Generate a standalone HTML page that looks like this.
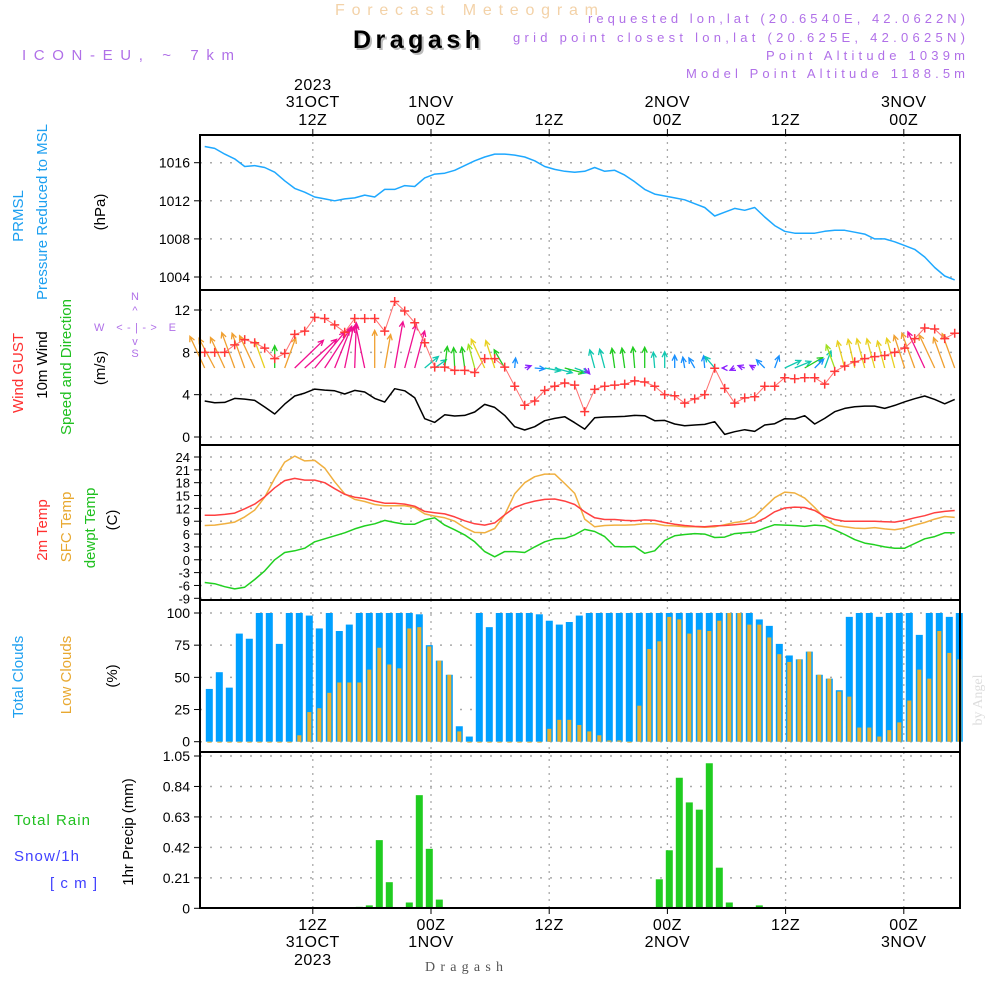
<!DOCTYPE html>
<html><head><meta charset="utf-8"><style>
html,body{margin:0;padding:0;background:#fff}
svg text{font-family:"Liberation Sans",sans-serif}
</style></head><body>
<svg id="chart" xmlns="http://www.w3.org/2000/svg" width="1000" height="1000" viewBox="0 0 1000 1000">
<rect x="0" y="0" width="1000" height="1000" fill="#fff"/>
<text x="335" y="15" font-size="16" fill="#f3d2a8" textLength="263" lengthAdjust="spacing">Forecast Meteogram</text>
<text x="355" y="50" font-size="25" font-weight="bold" fill="#bbb" textLength="127" lengthAdjust="spacing">Dragash</text>
<text x="353" y="48" font-size="25" font-weight="bold" fill="#000" textLength="127" lengthAdjust="spacing">Dragash</text>
<text x="22" y="60" font-size="15" fill="#b070e8" textLength="212" lengthAdjust="spacing">ICON-EU, ~ 7km</text>
<g font-size="13" fill="#b070e8">
<text x="588" y="23" textLength="377" lengthAdjust="spacing">requested lon,lat (20.6540E, 42.0622N)</text>
<text x="513" y="42" textLength="452" lengthAdjust="spacing">grid point closest lon,lat (20.625E, 42.0625N)</text>
<text x="766" y="60" textLength="199" lengthAdjust="spacing">Point Altitude 1039m</text>
<text x="686" y="78" textLength="279" lengthAdjust="spacing">Model Point Altitude 1188.5m</text>
</g>
<g font-size="15" text-anchor="middle">
<text transform="translate(23,216) rotate(-90)" fill="#1ea0f0">PRMSL</text>
<text transform="translate(47,212) rotate(-90)" fill="#1ea0f0">Pressure Reduced to MSL</text>
<text transform="translate(105,212) rotate(-90)" fill="#000">(hPa)</text>
<text transform="translate(23,373) rotate(-90)" fill="#ff3030">Wind GUST</text>
<text transform="translate(47,365) rotate(-90)" fill="#000">10m Wind</text>
<text transform="translate(71,367) rotate(-90)" fill="#20c020">Speed and Direction</text>
<text transform="translate(105,368) rotate(-90)" fill="#000">(m/s)</text>
<text transform="translate(47,530) rotate(-90)" fill="#ff3030">2m Temp</text>
<text transform="translate(71,527) rotate(-90)" fill="#e8a830">SFC Temp</text>
<text transform="translate(95,528) rotate(-90)" fill="#20c020">dewpt Temp</text>
<text transform="translate(117,520) rotate(-90)" fill="#000">(C)</text>
<text transform="translate(23,677) rotate(-90)" fill="#1ea0f0">Total Clouds</text>
<text transform="translate(71,675) rotate(-90)" fill="#e8a830">Low Clouds</text>
<text transform="translate(117,676) rotate(-90)" fill="#000">(%)</text>
<text transform="translate(133,832) rotate(-90)" fill="#000">1hr Precip (mm)</text>
</g>
<text x="14" y="825" font-size="15" fill="#20c020" textLength="76" lengthAdjust="spacing">Total  Rain</text>
<text x="14" y="861" font-size="15" fill="#4040ff" textLength="65" lengthAdjust="spacing">Snow/1h</text>
<text x="50" y="888" font-size="15" fill="#4040ff" textLength="47" lengthAdjust="spacing">[cm]</text>
<g font-size="11" fill="#b070e8" text-anchor="middle">
<text x="135" y="300">N</text>
<text x="135" y="314">^</text>
<text x="94" y="331" text-anchor="start" textLength="82" lengthAdjust="spacing">W &lt;-|-&gt; E</text>
<text x="135" y="345">v</text>
<text x="135" y="357">S</text>
</g>
<text transform="translate(982,700) rotate(-90)" font-size="14" fill="#ddd" text-anchor="middle" style="font-family:'Liberation Serif',serif">by Angel</text>
<text x="425" y="971" font-size="14" fill="#555" textLength="78" lengthAdjust="spacing" style="font-family:'Liberation Serif',serif">Dragash</text>
<g id="plot"></g>
</svg>
<script>
const pressure=[1017.7,1017.5,1016.9,1016.4,1015.6,1015.7,1015.5,1015.0,1014.1,1013.3,1012.9,1012.4,1012.2,1012.0,1012.2,1012.3,1012.6,1012.4,1013.2,1013.2,1013.6,1013.5,1014.4,1014.8,1014.9,1015.2,1015.7,1016.2,1016.6,1016.9,1016.9,1016.8,1016.6,1016.2,1015.6,1015.3,1015.1,1015.0,
1015.1,1015.5,1015.1,1015.2,1014.7,1014.0,1013.2,1012.7,1012.5,1012.3,1012.1,1011.7,1011.3,1010.4,1010.8,1011.2,1011.0,1011.3,1010.3,1009.4,1008.8,1008.6,1008.6,1008.6,1008.8,1008.9,1008.9,1008.7,1008.5,1008.0,1008.0,1007.7,1007.3,1006.9,1006.1,1005.0,1004.1,1003.7];
const windGust=[8.0,8.0,8.0,8.7,9.2,8.9,8.4,7.4,7.9,9.7,10.0,11.3,11.2,10.6,9.9,11.2,11.2,11.2,10.0,12.8,11.9,10.8,8.9,6.6,6.6,6.3,6.3,6.1,7.4,7.4,6.6,4.8,3.0,3.4,4.4,4.8,5.1,4.9,
2.4,4.5,4.8,4.9,5.0,5.3,5.2,4.8,4.0,3.9,3.2,3.6,4.0,6.5,4.6,3.2,3.7,3.8,4.8,4.8,5.6,5.5,5.6,5.6,5.0,6.2,6.7,7.1,7.4,7.6,7.7,8.0,8.4,9.3,10.3,10.2,9.3,9.8];
const wind10m=[3.4,3.24,3.27,3.65,3.58,3.46,2.83,2.17,3.11,3.87,4.15,4.53,4.43,4.37,4.06,4.4,4.25,3.65,3.3,4.56,4.37,3.71,1.73,1.38,2.1,1.98,2.04,2.36,3.08,2.8,2.04,0.97,0.66,0.97,1.54,1.76,1.92,1.35,
0.75,1.82,1.89,1.92,1.95,2.04,2.01,1.54,1.57,1.23,1.07,1.13,1.19,1.45,0.25,0.5,0.69,0.53,1.13,1.26,1.73,1.7,2.01,1.23,1.76,2.39,2.7,2.86,2.92,2.92,2.7,2.99,3.33,3.62,3.87,3.55,3.14,3.55];
const windDir=[-25,-28,-25,-20,-20,-25,-20,0,20,46,48,40,33,22,12,2,-12,0,10,10,15,15,50,55,7,-3,-8,-15,-25,-18,-30,5,70,95,100,105,105,110,
140,-15,-15,-8,-8,-5,0,-5,0,0,-10,-30,-5,-40,-90,-115,-70,-60,-45,20,65,68,60,45,20,-20,-15,-13,-15,-15,-15,-15,-18,-20,-25,-25,-20,-20];
const temp2m=[10.4,10.4,10.6,10.9,11.9,13.0,14.7,16.8,18.5,19.0,18.6,18.6,18.0,16.6,15.3,14.6,14.3,13.7,13.2,13.2,13.0,12.5,11.3,11.0,10.7,10.0,9.1,8.4,8.1,8.6,10.5,12.2,13.1,13.7,14.1,14.2,13.7,12.9,
11.2,9.8,9.4,9.4,9.2,9.1,9.3,9.2,8.7,8.3,8.0,7.8,7.7,7.9,8.0,8.2,8.4,8.6,9.7,11.2,12.1,12.3,12.2,11.5,10.1,9.4,9.0,9.0,9.0,9.0,8.9,8.8,9.2,9.8,10.3,11.0,11.3,11.5];
const tempSfc=[8.0,8.1,8.4,8.8,10.0,11.6,14.6,19.0,22.8,24.2,23.1,23.2,21.4,18.2,15.4,14.1,13.6,12.9,12.6,12.6,12.6,12.2,10.7,10.2,9.8,9.0,7.5,6.4,6.3,7.3,10.5,15.4,18.0,19.4,20.0,20.0,17.8,15.5,
9.5,7.7,8.0,8.1,8.1,8.2,8.4,8.4,8.0,7.9,7.7,7.7,7.6,7.7,8.2,8.7,9.0,10.1,12.3,14.5,15.8,15.6,14.4,12.2,9.7,8.1,7.7,7.4,7.3,7.5,7.2,7.0,7.4,8.1,8.7,9.5,10.1,9.9];
const dewpt=[-5.3,-5.6,-6.3,-6.8,-6.4,-4.6,-2.6,0.0,1.7,2.1,2.7,4.2,4.9,5.6,6.3,7.2,7.9,8.4,9.2,8.7,8.3,8.3,9.3,9.8,8.1,7.0,5.8,4.2,1.9,0.7,1.9,1.9,1.7,3.0,4.2,4.9,5.0,5.8,
7.1,6.6,5.4,3.1,3.0,3.1,1.5,2.1,4.5,5.6,5.9,6.1,6.0,5.2,5.3,6.1,6.3,6.5,7.4,8.2,8.1,8.0,7.8,8.1,7.9,7.0,5.9,4.7,3.9,3.5,3.0,2.7,2.7,3.8,4.9,5.4,6.3,6.3];
const totalClouds=[41,54,42,84,80,100,100,76,100,100,98,88,100,86,91,100,100,100,100,100,100,99,75,63,52,12,4,100,89,100,100,100,100,99,94,91,93,98,
100,100,100,100,100,100,100,100,100,100,100,100,100,100,100,100,100,95,90,76,67,64,70,52,49,40,97,100,100,97,100,100,100,83,100,100,97,100];
const lowClouds=[0,0,0,0,0,0,0,0,0,5,23,26,38,46,46,46,56,73,60,57,88,89,74,63,52,8,0,0,0,0,0,0,0,0,10,17,17,13,
8,5,1,1,0,28,72,78,97,95,84,87,86,94,100,100,91,91,81,68,62,64,70,52,49,39,35,11,11,4,9,15,32,56,49,86,69,64];
const precip=[0,0,0,0,0,0,0,0,0,0,0,0,0,0,0,0.01,0.02,0.47,0.18,0,0.04,0.78,0.41,0.06,0,0,0,0,0,0,0,0,0,0,0,0,0,0,0,0,0,0,0,0,0,0.2,0.4,0.9,0.73,0.68,1.0,0.28,0.04,0,0,0.02,0,0,0,0,0,0,0,0,0,0,0,0,0,0,0,0,0,0,0,0];
const pressureTicks=[1004,1008,1012,1016];
const windTicks=[0,4,8,12];
const tempTicks=[-9,-6,-3,0,3,6,9,12,15,18,21,24];
const cloudTicks=[0,25,50,75,100];
const precipTicks=[0,0.21,0.42,0.63,0.84,1.05];
const timeHours=[-12,0,12,24,36,48];
const timeHourLabels=["12Z","00Z","12Z","00Z","12Z","00Z"];
const timeDayLabels=["31OCT","1NOV","","2NOV","","3NOV"];
const timeYearLabels=["2023","","","","",""];

const NS="http://www.w3.org/2000/svg";
const plot=document.getElementById('plot');
function mk(tag,attrs,parent){const e=document.createElementNS(NS,tag);for(const k in attrs)e.setAttribute(k,attrs[k]);(parent||plot).appendChild(e);return e;}
const X0=200,X1=960;
const xIdx=i=>204.7+10*i;
const xBar=i=>xIdx(i)+4.6;
const xTime=h=>431+9.85*h;
function lin(d0,d1,r0,r1){return v=>r0+(v-d0)*(r1-r0)/(d1-d0);}
const panels=[
 {name:'pressure',top:135,bot:290,y:lin(1004,1016,277,162.7),ticks:pressureTicks,fmt:v=>String(v),fs:14},
 {name:'wind',top:290,bot:445,y:lin(0,12,437,310),ticks:windTicks,fmt:v=>String(v),fs:14},
 {name:'temp',top:445,bot:600,y:lin(-9,24,598.3,457),ticks:tempTicks,fmt:v=>String(v),fs:13},
 {name:'cloud',top:600,bot:752,y:lin(0,100,741.7,613),ticks:cloudTicks,fmt:v=>String(v),fs:14},
 {name:'precip',top:752,bot:908,y:lin(0,1.05,908.3,756),ticks:precipTicks,fmt:v=>v===0?'0':v.toFixed(2),fs:14}
];
panels.forEach(p=>{
 const g=mk('g',{});
 
 
 p.g=g;
 p.ticks.forEach(t=>{
  const yy=p.y(t);
  const gl=mk('line',{x1:X0,x2:X1,y1:yy,y2:yy,stroke:'#aaa','stroke-width':1.5,'stroke-dasharray':'2 8'},g);
  
  
  const tk=mk('line',{x1:X0-6,x2:X0,y1:yy,y2:yy,stroke:'#000','stroke-width':1},g);
  
  
  const tl=mk('text',{x:190,y:yy+5,'font-size':p.fs,'text-anchor':'end',fill:'#000'},g);
  tl.textContent=p.fmt(t);
  
  
 });
 timeHours.forEach(h=>{
  const xx=xTime(h);
  const vl=mk('line',{x1:xx,x2:xx,y1:p.top,y2:p.bot,stroke:'#aaa','stroke-width':1.3,'stroke-dasharray':'2 5'},g);
  
  
 });
});
function polyline(vals,ys,color,name,w){
 const pts=vals.map((v,i)=>xIdx(i).toFixed(1)+','+ys(v).toFixed(1)).join(' ');
 const e=mk('polyline',{points:pts,fill:'none',stroke:color,'stroke-width':w||1.4,'stroke-linejoin':'round'});
 
 
 return e;
}
polyline(pressure,panels[0].y,'#1ea8ff','pressure-line',1.5);
const wy=panels[1].y;
function windColor(s){if(s<0.8)return '#8a20ff';if(s<1.3)return '#1890ff';if(s<1.9)return '#10c8b0';if(s<2.3)return '#20cc20';if(s<2.6)return '#a0e020';if(s<3.1)return '#e8d020';if(s<3.7)return '#f0a030';return '#f01090';}
wind10m.forEach((s,i)=>{
 const a=windDir[i]*Math.PI/180,L=s*10.3;
 const bx=xIdx(i),by=368;
 const tx=bx+L*Math.sin(a),ty=by-L*Math.cos(a);
 const col=windColor(s);
 const h=6,ha=0.45;
 const h1x=tx-h*Math.sin(a-ha),h1y=ty+h*Math.cos(a-ha);
 const h2x=tx-h*Math.sin(a+ha),h2y=ty+h*Math.cos(a+ha);
 const ar=mk('path',{d:`M${bx.toFixed(1)},${by} L${tx.toFixed(1)},${ty.toFixed(1)} M${h1x.toFixed(1)},${h1y.toFixed(1)} L${tx.toFixed(1)},${ty.toFixed(1)} L${h2x.toFixed(1)},${h2y.toFixed(1)}`,stroke:col,'stroke-width':1.3,fill:'none'});
 
 
});
polyline(windGust,wy,'#ff7070','wind-gust-line',1);
windGust.forEach((v,i)=>{
 const xx=xIdx(i),yy=wy(v);
 const m=mk('path',{d:`M${xx-4.5},${yy} H${xx+4.5} M${xx},${yy-4.5} V${yy+4.5}`,stroke:'#ff3838','stroke-width':1.5});
 
 
});
polyline(wind10m,wy,'#000','wind-10m-line',1.5);
polyline(tempSfc,panels[2].y,'#f0b040','sfc-temp-line',1.5);
polyline(temp2m,panels[2].y,'#ff4040','temp-2m-line',1.5);
polyline(dewpt,panels[2].y,'#20d020','dewpt-line',1.5);
const cy=panels[3].y;
totalClouds.forEach((v,i)=>{
 const xx=xBar(i);
 const b=mk('rect',{x:xx-3.5,y:cy(v),width:7,height:cy(0)-cy(v),fill:'#00a0ff'});
 
 
});
lowClouds.forEach((v,i)=>{
 const xx=xBar(i);
 const b=mk('rect',{x:xx-2,y:cy(v),width:4,height:Math.max(cy(0)-cy(v),1),fill:'#e8b030'});
 
 
});
const py=panels[4].y;
precip.forEach((v,i)=>{
 if(v<=0)return;
 const xx=xBar(i);
 const b=mk('rect',{x:xx-3.5,y:py(v),width:7,height:py(0)-py(v),fill:'#20cc20'});
 
 
});
panels.forEach(p=>{
 const f=mk('rect',{x:X0,y:p.top,width:X1-X0,height:p.bot-p.top,fill:'none',stroke:'#000','stroke-width':2});
 
 
});
timeHours.forEach((h,i)=>{
 const xx=xTime(h);
 const t1=mk('line',{x1:xx,x2:xx,y1:129,y2:135,stroke:'#000'});
 
 
 const t2=mk('line',{x1:xx,x2:xx,y1:908,y2:914,stroke:'#000'});
 
 
 const lines=[[timeYearLabels[i],90,timeHourLabels[i],930],[timeDayLabels[i],107,timeDayLabels[i],947],[timeHourLabels[i],125,timeYearLabels[i],965]];
 lines.forEach(l=>{
  if(l[0]){const t=mk('text',{x:xx,y:l[1],'font-size':16,'text-anchor':'middle',fill:'#000','letter-spacing':0.5});t.textContent=l[0];
   
   }
  if(l[2]){const t=mk('text',{x:xx,y:l[3],'font-size':16,'text-anchor':'middle',fill:'#000','letter-spacing':0.5});t.textContent=l[2];
   
   }
 });
});
</script>
</body></html>
